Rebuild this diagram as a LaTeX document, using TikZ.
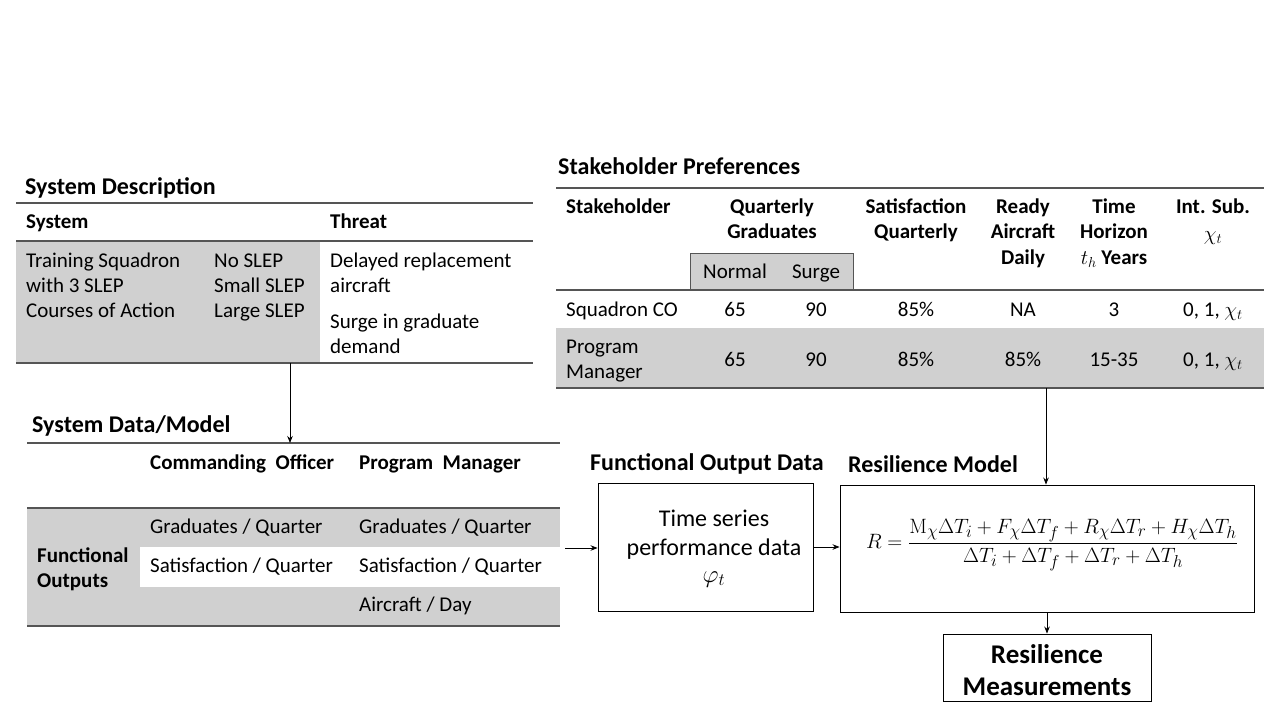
\documentclass[tikz,border=0pt]{standalone}
\usepackage[no-math]{fontspec}
\setmainfont{Carlito}
\usetikzlibrary{arrows.meta}
\definecolor{fillgray}{RGB}{208,208,208}
\definecolor{rulegray}{RGB}{85,85,85}
\begin{document}
\begin{tikzpicture}[x=1pt,y=-1pt,
  rule/.style={draw=rulegray,line width=1.3pt},
  thinrule/.style={draw=rulegray,line width=1pt},
  txt/.style={anchor=base west,inner sep=0pt,font=\fontsize{21}{25}\selectfont},
  ctxt/.style={anchor=base,inner sep=0pt,font=\fontsize{21}{25}\selectfont},
  hdr/.style={txt,font=\fontsize{21}{25}\selectfont\bfseries},
  chdr/.style={ctxt,font=\fontsize{21}{25}\selectfont\bfseries},
  ttl/.style={anchor=base west,inner sep=0pt,font=\fontsize{24}{28}\selectfont\bfseries},
  arr/.style={draw=black,line width=0.8pt,-{Stealth[length=7pt,width=5.5pt]}},
  boxed/.style={draw=black,line width=0.9pt,inner sep=0pt}
]
\useasboundingbox (0,0) rectangle (1280,720);

% ---------------- System Description ----------------
\node[ttl] (sdttl) at (25,194) {System Description};
\fill[fillgray] (16,241) rectangle (320,363);
\draw[rule] (16,203) -- (533,203);
\draw[rule] (16,241) -- (533,241);
\draw[rule] (16,363) -- (533,363);
\node[hdr] (sdsys) at (26,228) {System};
\node[hdr] (sdthr) at (330,228) {Threat};
\node[txt] (sdts1) at (26,267) {Training Squadron};
\node[txt] (sdts2) at (26,292) {with 3 SLEP};
\node[txt] (sdts3) at (26,317) {Courses of Action};
\node[txt] (sdsl1) at (214,267) {No SLEP};
\node[txt] (sdsl2) at (214,292) {Small SLEP};
\node[txt] (sdsl3) at (214,317) {Large SLEP};
\node[txt] (sdd1) at (330,267) {Delayed replacement};
\node[txt] (sdd2) at (330,292) {aircraft};
\node[txt] (sds1) at (330,328) {Surge in graduate};
\node[txt] (sds2) at (330,353) {demand};
\coordinate (sdbot) at (290,363);

% ---------------- System Data/Model ----------------
\node[ttl] (smttl) at (32,432) {System Data/Model};
\fill[fillgray] (27,508) rectangle (560,626);
\fill[white] (140,547) rectangle (560,587);
\draw[rule] (27,443) -- (560,443);
\draw[rule] (27,508) -- (560,508);
\draw[rule] (27,626) -- (560,626);
\coordinate (smtop) at (290,443);
\node[hdr] (smco) at (150,469) {Commanding\ \ Officer};
\node[hdr] (smpm) at (359,469) {Program\ \ Manager};
\node[hdr] (smfo1) at (37,562.5) {Functional};
\node[hdr] (smfo2) at (37,587.5) {Outputs};
\node[txt] (smg1) at (150,533.5) {Graduates / Quarter};
\node[txt] (smg2) at (359,533.5) {Graduates / Quarter};
\node[txt] (sms1) at (150,572.5) {Satisfaction / Quarter};
\node[txt] (sms2) at (359,572.5) {Satisfaction / Quarter};
\node[txt] (sma2) at (359,611.5) {Aircraft / Day};
\coordinate (smout) at (565,548);

% ---------------- Stakeholder Preferences ----------------
\node[ttl] (spttl) at (558,174) {Stakeholder Preferences};
\fill[fillgray] (556,328) rectangle (1264,388);
\fill[fillgray] (690,253) rectangle (853,290);
\draw[thinrule] (690,290) -- (690,253) -- (853,253) -- (853,290);
\draw[rule] (556,188) -- (1264,188);
\draw[rule] (556,290) -- (1264,290);
\draw[rule] (556,388) -- (1264,388);
\node[hdr] (sph1) at (566,213.5) {Stakeholder};
\node[chdr] (sph2a) at (772,213.5) {Quarterly};
\node[chdr] (sph2b) at (772,238.5) {Graduates};
\node[chdr] (sph3a) at (916,213.5) {Satisfaction};
\node[chdr] (sph3b) at (916,238.5) {Quarterly};
\node[chdr] (sph4a) at (1023,213.5) {Ready};
\node[chdr] (sph4b) at (1023,238.5) {Aircraft};
\node[chdr] (sph4c) at (1023,264) {Daily};
\node[chdr] (sph5a) at (1114,213.5) {Time};
\node[chdr] (sph5b) at (1114,238.5) {Horizon};
\node[chdr] (sph5c) at (1114,264) {$t_h$ Years};
\node[chdr] (sph6a) at (1213,213.5) {Int. Sub.};
\node[chdr] (sph6b) at (1213,240) {$\chi_t$};
\node[ctxt] (spn) at (735,278.5) {Normal};
\node[ctxt] (sps) at (816,278.5) {Surge};
% row 1
\node[txt] (r1a) at (566,316) {Squadron CO};
\node[ctxt] (r1b) at (735,316) {65};
\node[ctxt] (r1c) at (816,316) {90};
\node[ctxt] (r1d) at (916,316) {85\%};
\node[ctxt] (r1e) at (1023,316) {NA};
\node[ctxt] (r1f) at (1114,316) {3};
\node[ctxt] (r1g) at (1213,316) {0, 1, $\chi_t$};
% row 2
\node[txt] (r2a1) at (566,353) {Program};
\node[txt] (r2a2) at (566,378) {Manager};
\node[ctxt] (r2b) at (735,366) {65};
\node[ctxt] (r2c) at (816,366) {90};
\node[ctxt] (r2d) at (916,366) {85\%};
\node[ctxt] (r2e) at (1023,366) {85\%};
\node[ctxt] (r2f) at (1114,366) {15-35};
\node[ctxt] (r2g) at (1213,366) {0, 1, $\chi_t$};
\coordinate (spbot) at (1046,388);

% ---------------- Functional Output Data ----------------
\node[ttl] (fottl) at (590,470) {Functional Output Data};
\node[boxed,minimum width=215pt,minimum height=128pt] (fod) at (705.5,547) {};
\node[ctxt,font=\fontsize{24}{30}\selectfont] (fod1) at (714,526) {Time series};
\node[ctxt,font=\fontsize{24}{30}\selectfont] (fod2) at (714,555) {performance data};
\node[ctxt,font=\fontsize{24}{30}\selectfont] (fod3) at (714,582) {$\varphi_t$};

% ---------------- Resilience Model ----------------
\node[ttl] (rmttl) at (848,472) {Resilience Model};
\node[boxed,minimum width=414pt,minimum height=127pt] (rm) at (1047,548.5) {};
\node[inner sep=0pt,font=\fontsize{22.7}{27}\selectfont] (formula) at (1052,545)
      {$\displaystyle R=\frac{\mathrm{M}_\chi\Delta T_i+F_\chi\Delta T_f+R_\chi\Delta T_r+H_\chi\Delta T_h}{\Delta T_i+\Delta T_f+\Delta T_r+\Delta T_h}$};

\node[boxed,minimum width=208pt,minimum height=67pt] (meas) at (1047,667.5) {};
\node[ctxt,font=\fontsize{27}{32}\selectfont\bfseries] (meas1) at (1047,663) {Resilience};
\node[ctxt,font=\fontsize{27}{32}\selectfont\bfseries] (meas2) at (1047,695) {Measurements};

% ---------------- connectors ----------------
\draw[arr] (sdbot) -- (smtop);
\draw[arr] (smout) -- (smout -| fod.west);
\draw[arr] (fod.east) -- (fod.east -| rm.west);
\draw[arr] (spbot) -- (spbot |- rm.north);
\draw[arr] (rm) -- (meas);
\end{tikzpicture}
\end{document}
